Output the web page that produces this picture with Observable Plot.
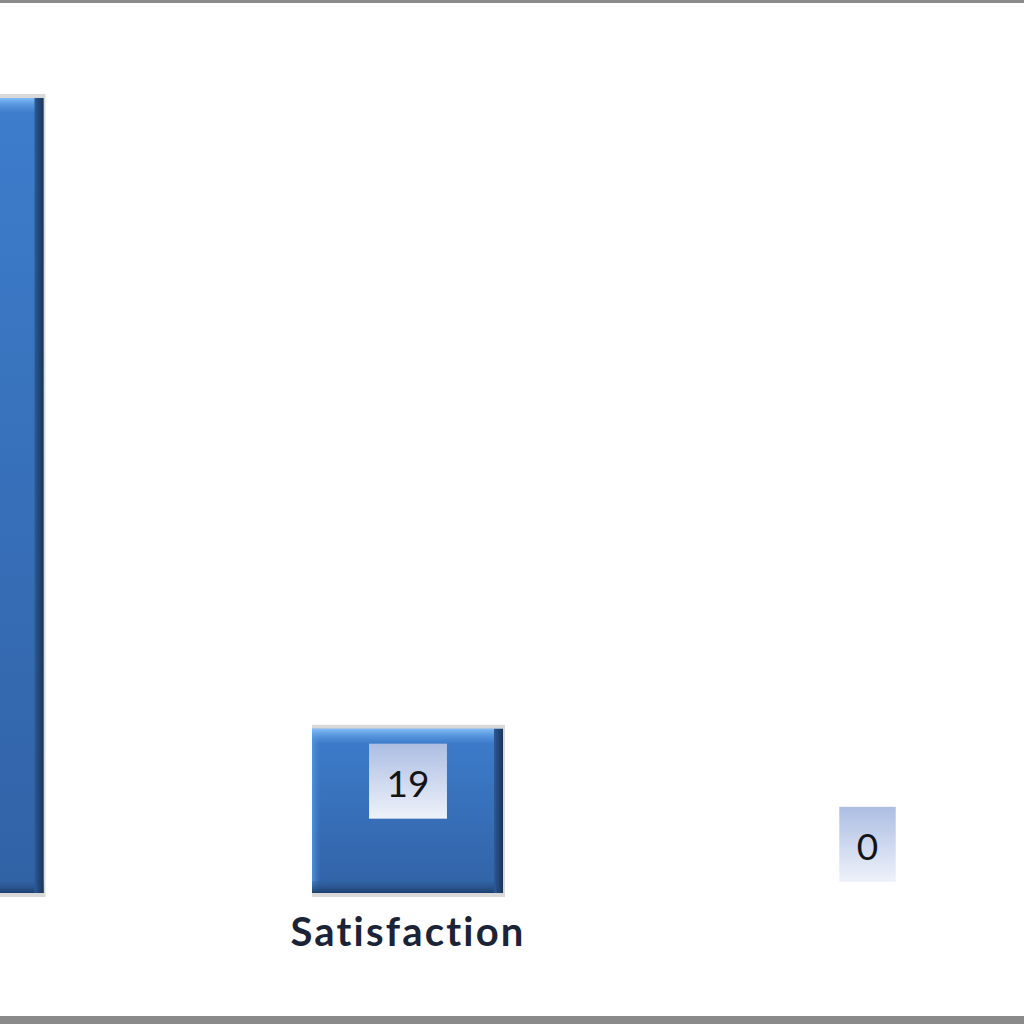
<!DOCTYPE html>
<html><head><meta charset="utf-8">
<script src="https://cdn.jsdelivr.net/npm/d3@7"></script>
<script src="https://cdn.jsdelivr.net/npm/@observablehq/plot@0.6"></script>
<style>
html,body{margin:0;padding:0;background:#fff;overflow:hidden;}
#frame{width:1024px;height:1024px;box-sizing:border-box;border-top:3px solid #8a8a8a;border-bottom:8px solid #8a8a8a;position:relative;overflow:hidden;background:#fff;}
#frame svg{display:block;}
</style></head><body>
<svg width="0" height="0" style="position:absolute">
  <defs>
    <linearGradient id="bodyGrad" x1="0" y1="0" x2="0" y2="1">
      <stop offset="0" stop-color="#3d7dcc"/><stop offset="1" stop-color="#3162a6"/>
    </linearGradient>
    <linearGradient id="leftGrad" x1="0" y1="0" x2="1" y2="0">
      <stop offset="0" stop-color="#5a98e0" stop-opacity="0.8"/><stop offset="1" stop-color="#3f80cf" stop-opacity="0"/>
    </linearGradient>
    <linearGradient id="rightGrad" x1="0" y1="0" x2="1" y2="0">
      <stop offset="0" stop-color="#2d5b98"/><stop offset="0.4" stop-color="#244a7e"/><stop offset="1" stop-color="#1b355a"/>
    </linearGradient>
    <linearGradient id="topGrad" x1="0" y1="0" x2="0" y2="1">
      <stop offset="0" stop-color="#82bef8"/><stop offset="1" stop-color="#4a8ad6" stop-opacity="0.3"/>
    </linearGradient>
    <linearGradient id="botGrad" x1="0" y1="0" x2="0" y2="1">
      <stop offset="0" stop-color="#2f5e9c" stop-opacity="0.3"/><stop offset="1" stop-color="#1e3f6c"/>
    </linearGradient>
    <linearGradient id="lblGrad" x1="0" y1="0" x2="0" y2="1">
      <stop offset="0" stop-color="#adbee3"/><stop offset="1" stop-color="#eef2fa"/>
    </linearGradient>
  </defs>
</svg>
<div id="frame"></div>
<script>
const categories = ["Category A", "Satisfaction", "Category C"];
const tickLabels = ["", "Satisfaction", ""];
const values = [92, 19, 0];

const data = categories.map((c, i) => ({cat: c, label: tickLabels[i], value: values[i]}));
const bars = data.filter(d => d.value > 0);
const zeros = data.filter(d => d.value === 0);

const chart = Plot.plot({
  width: 1024,
  height: 1013,
  margin: 0,
  style: {fontFamily: "Lato", background: "white", overflow: "hidden"},
  x: {domain: categories, range: [-416, 1231], padding: 0.5843, round: false, axis: null},
  y: {domain: [0, 100], range: [890, 25.9], axis: null},
  marks: [
    Plot.barY(bars, {x: "cat", y: "value", fill: "#d9d9d9", insetTop: -4, insetBottom: -4, insetLeft: 0, insetRight: -2}),
    Plot.barY(bars, {x: "cat", y: "value", fill: "url(#bodyGrad)"}),
    Plot.barY(bars, {x: "cat", y: "value", fill: "url(#leftGrad)", insetRight: 182}),
    Plot.barY(bars, {x: "cat", y1: "value", y2: "value", insetBottom: -14, insetRight: 8, fill: "url(#topGrad)"}),
    Plot.barY(bars, {x: "cat", y1: 0, y2: 0, insetTop: -12, fill: "url(#botGrad)"}),
    Plot.barY(bars, {x: "cat", y: "value", fill: "url(#rightGrad)", insetLeft: 182}),
    Plot.text(bars, {x: "cat", y: "value", text: d => String(d.value), dy: 56, fontSize: 37, fill: "#141414", ariaLabel: () => "value-label"}),
    Plot.text(zeros, {x: "cat", y: "value", text: d => String(d.value), dy: -45, fontSize: 37, fill: "#141414", ariaLabel: () => "value-label"}),
    Plot.text(data, {x: "cat", y: 0, text: "label", dy: 40, fontSize: 40, fontWeight: "bold", fill: "#1b2336", ariaLabel: () => "category-label"})
  ]
});
document.getElementById("frame").appendChild(chart);

// category labels: widen spacing to match the reference lettering
d3.select(chart).selectAll('text[aria-label="category-label"]')
  .style("letter-spacing", "2.2px");

// boxed data labels: add a gradient box behind each value label, sized from its text
d3.select(chart).selectAll('text[aria-label="value-label"]').each(function() {
  const bb = this.getBBox();
  const padX = 17.5, boxH = 75;
  const cy = bb.y + bb.height / 2 - 1.5;
  const r = document.createElementNS("http://www.w3.org/2000/svg", "rect");
  r.setAttribute("x", bb.x - padX);
  r.setAttribute("width", bb.width + 2 * padX);
  r.setAttribute("y", cy - boxH / 2);
  r.setAttribute("height", boxH);
  r.setAttribute("fill", "url(#lblGrad)");
  const t = this.getAttribute("transform");
  if (t) r.setAttribute("transform", t);
  this.parentNode.insertBefore(r, this);
});
</script>
</body></html>
